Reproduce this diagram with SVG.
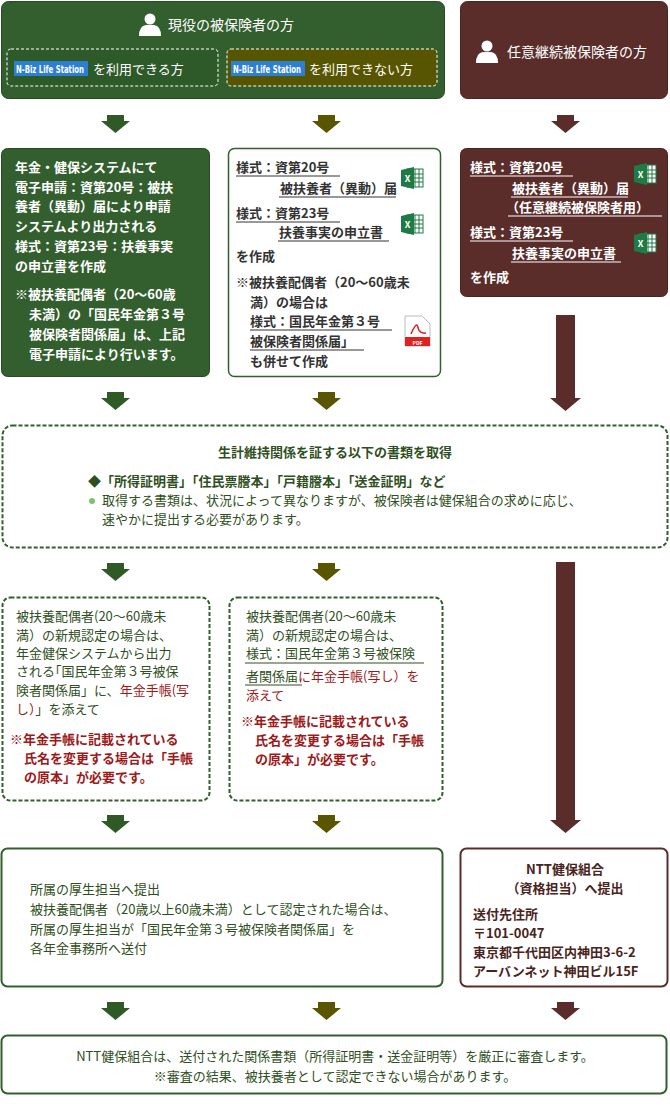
<svg xmlns="http://www.w3.org/2000/svg" width="670" height="1120" viewBox="0 0 670 1120">
<defs>
<style>
text{font-family:"Noto Sans CJK JP","Noto Sans",sans-serif;font-weight:bold;font-size:13px}
.w{fill:#fff}.dg{fill:#2f4f22}.br{fill:#4a2420}.rd{fill:#9c1a1a}.k{fill:#333}
.c{text-anchor:middle}
.ul{stroke:#333;stroke-width:1}
.ulw{stroke:#fff;stroke-width:1}
.nb{font-family:"DejaVu Sans Condensed","Liberation Sans",sans-serif;font-size:11px;fill:#fff}
</style>
<g id="person"><circle cx="0" cy="-5" r="5.5" fill="#fff"/><path d="M-11,12 Q-11,2 -4,1 L4,1 Q11,2 11,12 Z" fill="#fff"/></g>
<g id="xls"><rect x="6" y="2" width="16" height="18" fill="#fff" stroke="#1f7a45"/><path d="M10,2V20M14,2V20M18,2V20M6,7H22M6,11H22M6,15H22" stroke="#1f7a45" stroke-width="1"/><path d="M0,3 L13,0 L13,22 L0,19 Z" fill="#1f7a45"/><text x="6.5" y="15" class="w c" style="font-size:9px">X</text></g>
</defs>
<rect width="670" height="1120" fill="#fff"/>
<g id="n-active">
<rect x="1.5" y="1.5" width="443" height="97" rx="7" fill="#335e2e" stroke="#284a22"/>
<use href="#person" x="150" y="24"/>
<text x="168" y="30" class="w" style="font-size:14px;font-weight:normal">現役の被保険者の方</text>
<rect x="7" y="49" width="211" height="37" rx="4" fill="#2e5a2a" stroke="#fff" stroke-dasharray="3,2"/>
<rect x="14" y="61" width="74" height="15" fill="#2d7fd4"/>
<text x="16" y="73" class="nb" textLength="68" lengthAdjust="spacingAndGlyphs">N-Biz Life Station</text>
<text x="93" y="74" class="w" style="font-weight:normal">を利用できる方</text>
<rect x="227" y="49" width="210" height="37" rx="4" fill="#585500" stroke="#fff" stroke-dasharray="3,2"/>
<rect x="231" y="61" width="74" height="15" fill="#2d7fd4"/>
<text x="233" y="73" class="nb" textLength="68" lengthAdjust="spacingAndGlyphs">N-Biz Life Station</text>
<text x="309" y="74" class="w" style="font-weight:normal">を利用できない方</text>
</g>
<g id="n-voluntary">
<rect x="460.5" y="1.5" width="207" height="97" rx="7" fill="#5a2d2a" stroke="#4a2220"/>
<use href="#person" x="487" y="51"/>
<text x="507" y="57" class="w" style="font-size:14px;font-weight:normal">任意継続被保険者の方</text>
</g>
<g id="n-b1">
<rect x="1.5" y="148.5" width="208" height="228" rx="6" fill="#335e2e" stroke="#284a22"/>
<text x="15" y="172" class="w">年金・健保システムにて</text>
<text x="15" y="192" class="w">電子申請：資第20号：被扶</text>
<text x="15" y="211" class="w">養者（異動）届により申請</text>
<text x="15" y="231" class="w">システムより出力される</text>
<text x="15" y="251" class="w">様式：資第23号：扶養事実</text>
<text x="15" y="271" class="w">の申立書を作成</text>
<text x="15" y="299" class="w">※被扶養配偶者（20～60歳</text>
<text x="29" y="319" class="w">未満）の「国民年金第３号</text>
<text x="29" y="339" class="w">被保険者関係届」は、上記</text>
<text x="29" y="359" class="w">電子申請により行います。</text>
</g>
<g id="n-b2">
<rect x="228.5" y="148.5" width="212" height="228" rx="6" fill="#fff" stroke="#335e2e" stroke-width="1.5"/>
<text x="236" y="172" class="k">様式：資第20号</text><line x1="236" y1="176" x2="340" y2="176" class="ul"/>
<text x="280" y="193" class="k">被扶養者（異動）届</text><line x1="279" y1="197" x2="396" y2="197" class="ul"/>
<use href="#xls" x="401" y="167"/>
<text x="236" y="218" class="k">様式：資第23号</text><line x1="236" y1="222" x2="340" y2="222" class="ul"/>
<text x="279" y="237" class="k">扶養事実の申立書</text><line x1="278" y1="241" x2="389" y2="241" class="ul"/>
<use href="#xls" x="401" y="213"/>
<text x="236" y="261" class="k">を作成</text>
<text x="236" y="287" class="k">※被扶養配偶者（20～60歳未</text>
<text x="250" y="307" class="k">満）の場合は</text>
<text x="250" y="326" class="k">様式：国民年金第３号</text><line x1="250" y1="330" x2="392" y2="330" class="ul"/>
<text x="250" y="346" class="k">被保険者関係届」</text><line x1="250" y1="350" x2="364" y2="350" class="ul"/>
<text x="250" y="366" class="k">も併せて作成</text>
<g id="pdf"><path d="M405,316 H422 L430,324 V346 H405 Z" fill="#fff" stroke="#bbb"/><rect x="405" y="337" width="25" height="9" fill="#d22"/><path d="M411,334 Q417,320 418,328 Q420,334 426,333" fill="none" stroke="#d22" stroke-width="1.5"/><text x="417.5" y="344.5" class="w c" style="font-size:5px">PDF</text></g>
</g>
<g id="n-b3">
<rect x="460.5" y="148.5" width="207" height="148" rx="6" fill="#5a2d2a" stroke="#4a2220"/>
<text x="470" y="172" class="w">様式：資第20号</text><line x1="470" y1="176" x2="573" y2="176" class="ulw"/>
<text x="512" y="193" class="w">被扶養者（異動）届</text><line x1="511" y1="197" x2="628" y2="197" class="ulw"/>
<text x="506" y="212" class="w">（任意継続被保険者用）</text><line x1="508" y1="216" x2="662" y2="216" class="ulw"/>
<use href="#xls" x="634" y="163"/>
<text x="470" y="237" class="w">様式：資第23号</text><line x1="470" y1="241" x2="573" y2="241" class="ulw"/>
<text x="512" y="258" class="w">扶養事実の申立書</text><line x1="511" y1="262" x2="621" y2="262" class="ulw"/>
<use href="#xls" x="634" y="232"/>
<text x="470" y="282" class="w">を作成</text>
</g>
<g id="n-docs">
<rect x="2.5" y="425.5" width="665" height="122" rx="10" fill="#fff" stroke="#335e2e" stroke-width="2" stroke-dasharray="4,2"/>
<text x="335" y="457" class="dg c">生計維持関係を証する以下の書類を取得</text>
<text x="88" y="486" class="dg">◆「所得証明書」「住民票謄本」「戸籍謄本」「送金証明」など</text>
<circle cx="92" cy="501" r="3" fill="#7cc36a"/>
<text x="102" y="505" class="dg" style="font-weight:normal">取得する書類は、状況によって異なりますが、被保険者は健保組合の求めに応じ、</text>
<text x="102" y="524" class="dg" style="font-weight:normal">速やかに提出する必要があります。</text>
</g>
<g id="n-d1">
<rect x="2.5" y="597.5" width="207" height="203" rx="8" fill="#fff" stroke="#335e2e" stroke-width="2" stroke-dasharray="4,2"/>
<text x="16" y="621" class="dg" style="font-weight:normal">被扶養配偶者(20～60歳未</text>
<text x="16" y="640" class="dg" style="font-weight:normal">満）の新規認定の場合は、</text>
<text x="16" y="658" class="dg" style="font-weight:normal">年金健保システムから出力</text>
<text x="16" y="676" class="dg" style="font-weight:normal">される｢国民年金第３号被保</text>
<text x="16" y="695" class="dg" style="font-weight:normal">険者関係届」に、<tspan class="rd">年金手帳(写</tspan></text>
<text x="16" y="714" class="dg" style="font-weight:normal"><tspan class="rd">し）</tspan>」を添えて</text>
<text x="10" y="744" class="rd">※年金手帳に記載されている</text>
<text x="24" y="763" class="rd">氏名を変更する場合は「手帳</text>
<text x="24" y="782" class="rd">の原本」が必要です。</text>
</g>
<g id="n-d2">
<rect x="229.5" y="597.5" width="213" height="203" rx="8" fill="#fff" stroke="#335e2e" stroke-width="2" stroke-dasharray="4,2"/>
<text x="246" y="621" class="dg" style="font-weight:normal">被扶養配偶者(20～60歳未</text>
<text x="246" y="640" class="dg" style="font-weight:normal">満）の新規認定の場合は、</text>
<text x="246" y="658" class="dg" style="font-weight:normal">様式：国民年金第３号被保険</text><line x1="245" y1="663" x2="424" y2="663" stroke="#2f4f22"/>
<text x="246" y="681" class="dg" style="font-weight:normal">者関係届<tspan class="rd">に年金手帳(写し）を</tspan></text><line x1="245" y1="685" x2="302" y2="685" stroke="#2f4f22"/>
<text x="246" y="700" class="rd" style="font-weight:normal">添えて</text>
<text x="241" y="726" class="rd">※年金手帳に記載されている</text>
<text x="255" y="745" class="rd">氏名を変更する場合は「手帳</text>
<text x="255" y="764" class="rd">の原本」が必要です。</text>
</g>
<g id="n-e1">
<rect x="1.5" y="848.5" width="441" height="138" rx="6" fill="#fff" stroke="#335e2e" stroke-width="2"/>
<text x="30" y="894" class="dg" style="font-weight:normal">所属の厚生担当へ提出</text>
<text x="30" y="914" class="dg" style="font-weight:normal">被扶養配偶者（20歳以上60歳未満）として認定された場合は、</text>
<text x="30" y="934" class="dg" style="font-weight:normal">所属の厚生担当が「国民年金第３号被保険者関係届」を</text>
<text x="30" y="953" class="dg" style="font-weight:normal">各年金事務所へ送付</text>
</g>
<g id="n-e2">
<rect x="460.5" y="848.5" width="207" height="138" rx="6" fill="#fff" stroke="#5a2d2a" stroke-width="2"/>
<text x="565" y="874" class="br c">NTT健保組合</text>
<text x="565" y="893" class="br c">（資格担当）へ提出</text>
<text x="473" y="919" class="br">送付先住所</text>
<text x="473" y="938" class="br">〒101-0047</text>
<text x="473" y="957" class="br">東京都千代田区内神田3-6-2</text>
<text x="473" y="976" class="br">アーバンネット神田ビル15F</text>
</g>
<g id="n-final">
<rect x="1.5" y="1035.5" width="665" height="58" rx="6" fill="#fff" stroke="#335e2e" stroke-width="2"/>
<text x="335" y="1061" class="dg c" style="font-weight:normal">NTT健保組合は、送付された関係書類（所得証明書・送金証明等）を厳正に審査します。</text>
<text x="335" y="1081" class="dg c" style="font-weight:normal">※審査の結果、被扶養者として認定できない場合があります。</text>
</g>
<g id="connectors">
<path d="M107,115 H124 V121 H130 L115.5,133 L101,121 H107 Z" fill="#2f5a25"/>
<path d="M318,115 H335 V121 H341 L326.5,133 L312,121 H318 Z" fill="#5a5500"/>
<path d="M557,115 H574 V121 H580 L565.5,133 L551,121 H557 Z" fill="#5a2d2a"/>
<path d="M107,392 H124 V398 H130 L115.5,410 L101,398 H107 Z" fill="#2f5a25"/>
<path d="M318,392 H335 V398 H341 L326.5,410 L312,398 H318 Z" fill="#5a5500"/>
<path d="M556,315 H575 V398 H581 L565.5,411 L550,398 H556 Z" fill="#5a2d2a"/>
<path d="M107,563 H124 V569 H130 L115.5,581 L101,569 H107 Z" fill="#2f5a25"/>
<path d="M318,563 H335 V569 H341 L326.5,581 L312,569 H318 Z" fill="#5a5500"/>
<path d="M556,562 H575 V820 H581 L565.5,833 L550,820 H556 Z" fill="#5a2d2a"/>
<path d="M107,815 H124 V821 H130 L115.5,833 L101,821 H107 Z" fill="#2f5a25"/>
<path d="M318,815 H335 V821 H341 L326.5,833 L312,821 H318 Z" fill="#5a5500"/>
<path d="M107,1002 H124 V1008 H130 L115.5,1020 L101,1008 H107 Z" fill="#2f5a25"/>
<path d="M318,1002 H335 V1008 H341 L326.5,1020 L312,1008 H318 Z" fill="#5a5500"/>
<path d="M557,1002 H574 V1008 H580 L565.5,1020 L551,1008 H557 Z" fill="#5a2d2a"/>
</g>
</svg>
